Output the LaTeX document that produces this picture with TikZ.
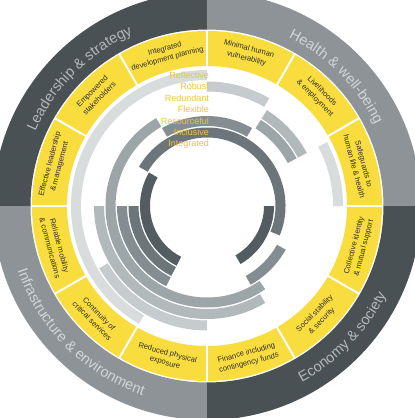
\documentclass[tikz,border=0pt]{standalone}
\usepackage{fontspec}
\setmainfont{Liberation Sans}
\usetikzlibrary{decorations.text}
\definecolor{ringdark}{HTML}{4A5155}
\definecolor{ringmid}{HTML}{8D9397}
\definecolor{segyel}{HTML}{F9DC3E}
\definecolor{qualtxt}{HTML}{F2C234}
\definecolor{segtxt}{HTML}{2E2E2E}
\definecolor{darktxt}{HTML}{B3B8BA}
\definecolor{midtxt}{HTML}{D3D6D8}
\definecolor{qA}{HTML}{D8DCDD}
\definecolor{qB}{HTML}{C6CBCD}
\definecolor{qC}{HTML}{B2B9BB}
\definecolor{qD}{HTML}{9CA5A8}
\definecolor{qE}{HTML}{848E92}
\definecolor{qF}{HTML}{6C767A}
\definecolor{qG}{HTML}{535C60}
\newcommand\annsec[5]{\fill[#1] (#2:#5pt) arc[start angle=#2,end angle=#3,radius=#5pt] -- (#3:#4pt) arc[start angle=#3,end angle=#2,radius=#4pt] -- cycle;}
\newcommand\qarc[4]{\pgfmathsetmacro\qro{#4+5}\pgfmathsetmacro\qri{#4-5}\annsec{#1}{#2}{#3}{\qri}{\qro}}
\newcommand\ringfont{\fontsize{14.5}{14.5}\selectfont}
\begin{document}
\begin{tikzpicture}[x=1pt,y=1pt,
  qual/.style={anchor=east, inner sep=0pt, text=qualtxt, font=\fontsize{9}{9}\selectfont},
  seg/.style={align=center, text=segtxt, font=\fontsize{7.6}{10}\selectfont, inner sep=0pt},
  sepline/.style={draw=white, line width=2pt},
  ringtext/.style={decorate, decoration={text along path, text align=center, text={#1}}}]
\useasboundingbox (-207,-212) rectangle (208,206);
\clip (-207,-212) rectangle (208,206);
\fill[white] (-207,-212) rectangle (208,206);
% outer ring quadrants
\annsec{ringdark}{90}{180}{176.5}{214}
\annsec{ringmid}{0}{90}{176.5}{214}
\annsec{ringdark}{270}{360}{176.5}{214}
\annsec{ringmid}{180}{270}{176.5}{214}
% yellow band
\annsec{segyel}{0}{360}{140}{175}
\foreach \a in {0,30,...,330} {\draw[sepline] (\a:138pt) -- (\a:176pt);}
% quality arcs
\qarc{qA}{90}{240}{131}
\qarc{qA}{0}{28}{131}
\qarc{qB}{60}{90}{119.5}
\qarc{qB}{210}{270}{119.5}
\qarc{qC}{28}{58}{108}
\qarc{qC}{180}{301}{108}
\qarc{qD}{28}{58}{96.5}
\qarc{qD}{120}{305}{96.5}
\qarc{qE}{60}{120}{85}
\qarc{qE}{180}{243}{85}
\qarc{qE}{299}{331}{85}
\qarc{qF}{-22}{150}{73.5}
\qarc{qF}{180}{243}{73.5}
\qarc{qG}{150}{243}{62}
\qarc{qG}{-60}{0}{62}
% quality labels
\node[qual] (qRefl) at (2,131) {Reflective};
\node[qual] (qRob) at (2,119.5) {Robust};
\node[qual] (qRed) at (2,108) {Redundant};
\node[qual] (qFlex) at (2,96.5) {Flexible};
\node[qual] (qRes) at (2,85) {Resourceful};
\node[qual] (qIncl) at (2,73.5) {Inclusive};
\node[qual] (qInt) at (2,62) {Integrated};
% segment texts
\node[seg, rotate=15] (idp) at (105:157.5pt) {Integrated\\development planning};
\node[seg, rotate=-15] (mhv) at (75:157.5pt) {Minimal human\\vulnerability};
\node[seg, rotate=-45] (lem) at (45:157.5pt) {Livelihoods\\\& employment};
\node[seg, rotate=-75] (shl) at (15:157.5pt) {Safeguards to\\human life \& health};
\node[seg, rotate=75] (cim) at (-15:157.5pt) {Collective identity\\\& mutual support};
\node[seg, rotate=45] (sss) at (-45:157.5pt) {Social stability\\\& security};
\node[seg, rotate=15] (fic) at (-75:157.5pt) {Finance including\\contingency funds};
\node[seg, rotate=-15] (rpe) at (255:157.5pt) {Reduced physical\\exposure};
\node[seg, rotate=-45] (ccs) at (225:157.5pt) {Continuity of\\critical services};
\node[seg, rotate=-75] (rmc) at (195:157.5pt) {Reliable mobility\\\& communications};
\node[seg, rotate=75] (elm) at (165:157.5pt) {Effective leadership\\\& management};
\node[seg, rotate=45] (est) at (135:157.5pt) {Empowered\\stakeholders};
% outer ring texts
\path[ringtext={|\ringfont\color{darktxt}|Leadership {\&} strategy}] (172:187pt) arc[start angle=172,end angle=98,radius=187pt];
\path[ringtext={|\ringfont\color{midtxt}|Health {\&} well-being}] (82:187pt) arc[start angle=82,end angle=8,radius=187pt];
\path[ringtext={|\ringfont\color{darktxt}|Economy {\&} society}] (-82:200pt) arc[start angle=-82,end angle=-6,radius=200pt];
\path[ringtext={|\ringfont\color{midtxt}|Infrastructure {\&} environment}] (186:200pt) arc[start angle=186,end angle=264,radius=200pt];
\end{tikzpicture}
\end{document}
